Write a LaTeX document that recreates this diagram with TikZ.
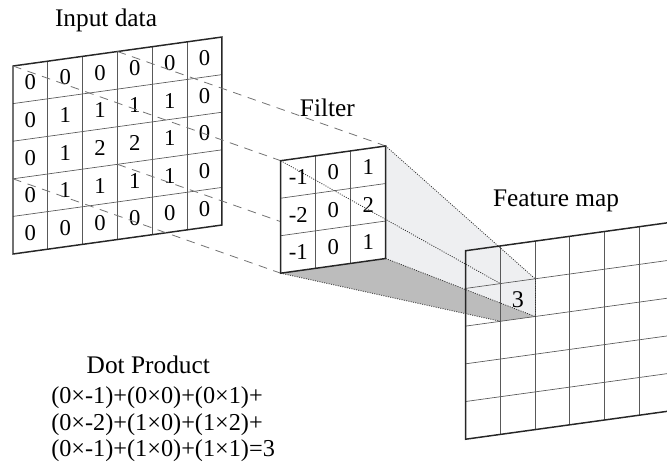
\documentclass[tikz,border=0pt]{standalone}
\usepackage{fontspec}
\setmainfont{Liberation Serif}
\definecolor{lightface}{RGB}{238,239,241}
\definecolor{darkface}{RGB}{188,188,188}
\begin{document}
\begin{tikzpicture}[x=0.75pt,y=-0.75pt,
  outer/.style={line width=1.1pt,black!85,line join=miter},
  inner/.style={line width=0.5pt,black!65},
  proj/.style={line width=0.6pt,black!55,dash pattern=on 6.5pt off 5pt},
  dots/.style={line width=0.6pt,black!80,dash pattern=on 0.75pt off 1pt},
  cellnum/.style={font=\fontsize{17}{17}\selectfont,inner sep=0pt},
  lbl/.style={font=\fontsize{19}{22}\selectfont,inner sep=0pt,anchor=base},
  eqline/.style={font=\fontsize{18.2}{22}\selectfont,inner sep=0pt,anchor=base west},
  inputgrid/.style={shift={(13,66)},x={(34.83,-4.83)},y={(0,37.6)}},
  filtergrid/.style={shift={(280.7,160.7)},x={(35,-4.9)},y={(0,37.5)}},
  featgrid/.style={shift={(465.7,250.7)},x={(34.7,-4.8)},y={(0,37.7)}}]
\useasboundingbox (0,0) rectangle (667,468);
\clip (0,0) rectangle (667,468);

% ---------- Input data ----------
\begin{scope}[inputgrid]
  \fill[white] (0,0) -- (6,0) -- (6,5) -- (0,5) -- cycle;
  \foreach \i in {1,...,5} \draw[inner] (\i,0) -- (\i,5);
  \foreach \j in {1,...,4} \draw[inner] (0,\j) -- (6,\j);
  \draw[outer] (0,0) -- (6,0) -- (6,5) -- (0,5) -- cycle;
  \foreach \r [count=\j from 0] in {{0,0,0,0,0,0},{0,1,1,1,1,0},{0,1,2,2,1,0},{0,1,1,1,1,0},{0,0,0,0,0,0}}
    \foreach \v [count=\i from 0] in \r
      \node[cellnum] (in-\i-\j) at (\i+0.5,\j+0.5) {\v};
  \coordinate (inTL) at (0,0);
  \coordinate (inTR) at (3,0);
  \coordinate (inBL) at (0,3);
  \coordinate (inBR) at (3,3);
\end{scope}

% ---------- corner coordinates ----------
\begin{scope}[filtergrid]
  \coordinate (fTL) at (0,0);
  \coordinate (fTR) at (3,0);
  \coordinate (fBL) at (0,3);
  \coordinate (fBR) at (3,3);
\end{scope}
\begin{scope}[featgrid]
  \coordinate (cTL) at (1,1);
  \coordinate (cTR) at (2,1);
  \coordinate (cBL) at (1,2);
  \coordinate (cBR) at (2,2);
  \fill[white] (0,0) -- (7,0) -- (7,5) -- (0,5) -- cycle;
\end{scope}

% ---------- projection input -> filter ----------
\draw[proj] (inTL) -- (fTL);
\draw[proj] (inTR) -- (fTR);
\draw[proj] (inBL) -- (fBL);
\draw[proj] (inBR) -- (fBR);

% ---------- faces filter -> feature cell ----------
\fill[lightface] (fTR) -- (cTR) -- (cBR) -- (fBR) -- cycle;
\fill[darkface] (fBL) -- (fBR) -- (cBR) -- (cBL) -- cycle;

% ---------- Feature map ----------
\begin{scope}[featgrid]
  \foreach \i in {1,...,6} \draw[inner] (\i,0) -- (\i,5);
  \foreach \j in {1,...,4} \draw[inner] (0,\j) -- (7,\j);
  \draw[outer] (7,0) -- (0,0) -- (0,5) -- (7,5);
  \node[cellnum,font=\fontsize{18}{18}\selectfont] (res) at (1.5,1.5) {3};
\end{scope}

% ---------- Filter ----------
\begin{scope}[filtergrid]
  \fill[white] (0,0) -- (3,0) -- (3,3) -- (0,3) -- cycle;
  \foreach \i in {1,2} \draw[inner] (\i,0) -- (\i,3);
  \foreach \j in {1,2} \draw[inner] (0,\j) -- (3,\j);
  \draw[outer] (0,0) -- (3,0) -- (3,3) -- (0,3) -- cycle;
  \foreach \r [count=\j from 0] in {{-1,0,1},{-2,0,2},{-1,0,1}}
    \foreach \v [count=\i from 0] in \r
      \node[cellnum] (f-\i-\j) at (\i+0.5,\j+0.5) {\v};
\end{scope}

% ---------- projection filter -> feature cell ----------
\draw[dots] (fTL) -- (cTL);
\draw[dots] (fTR) -- (cTR);
\draw[dots] (fBL) -- (cBL);
\draw[dots] (fBR) -- (cBR);
\draw[dots] (cTR) -- (cBR);

% ---------- labels ----------
\node[lbl] (tin) at (106,26.7) {Input data};
\node[lbl] (tfil) at (327.4,116) {Filter};
\node[lbl] (tfeat) at (556,206) {Feature map};
\node[lbl] (tdot) at (148.3,373.5) {Dot Product};
\node[eqline] (eq1) at (51,403.5) {(0×-1)+(0×0)+(0×1)+};
\node[eqline] (eq2) at (51,430) {(0×-2)+(1×0)+(1×2)+};
\node[eqline] (eq3) at (51,456) {(0×-1)+(1×0)+(1×1)=3};
\end{tikzpicture}
\end{document}
